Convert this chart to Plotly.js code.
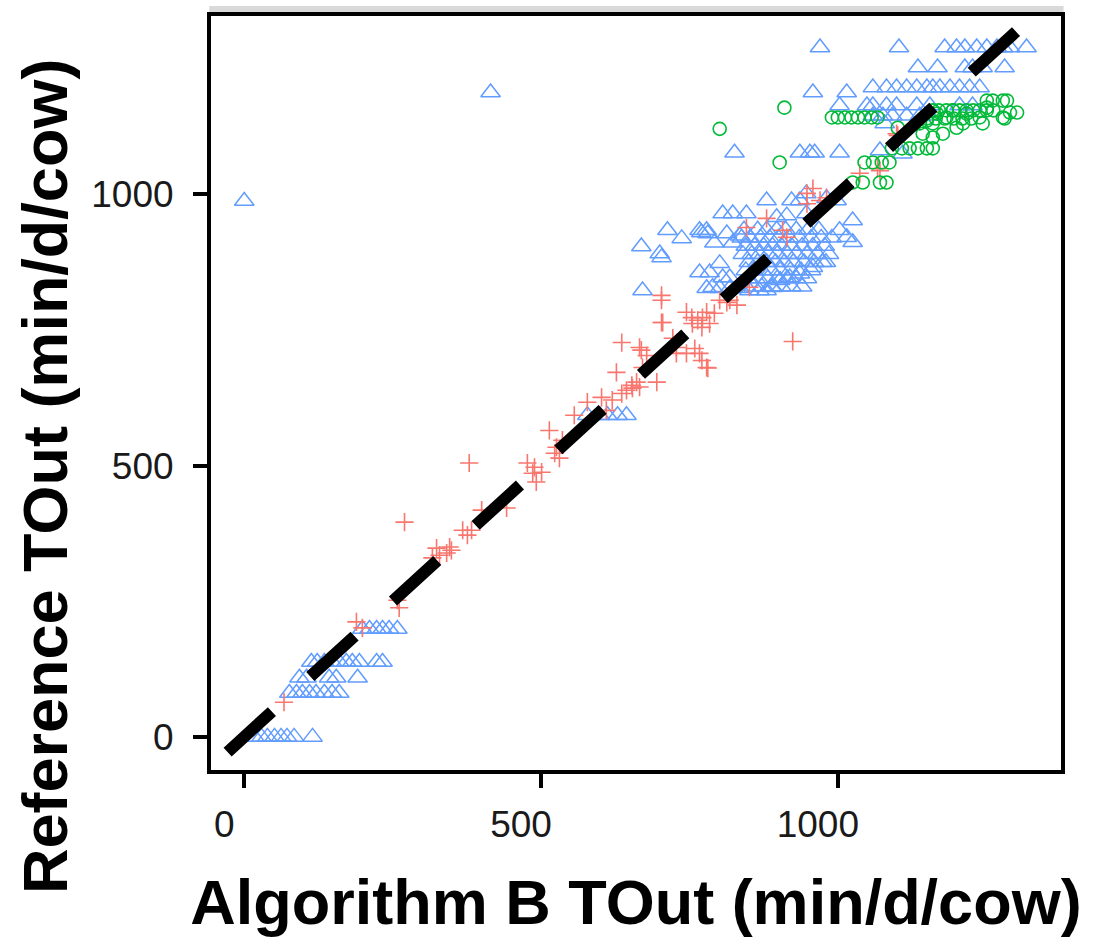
<!DOCTYPE html>
<html>
<head>
<meta charset="utf-8">
<script src="https://cdn.plot.ly/plotly-3.0.1.min.js"></script>
<style>html,body{margin:0;padding:0;background:#fff;}#chart{width:1096px;height:940px;}</style>
</head>
<body>
<div id="chart"></div>
<script>
// Blue triangles
const triX = [
  0, 415, 669,
  970, 1103, 1180, 1200, 1214, 1234, 1251, 1268, 1278, 1290, 1318,
  1135, 1168, 1214, 1227, 1244, 1281,
  1059, 1082, 1099, 1116, 1133, 1150, 1160, 1172, 1189, 1205, 1222, 1239,
  958, 1015,
  1003, 1049, 1059, 1082, 1099, 1133, 1155, 1205, 1227,
  1059, 1076, 1092, 1116, 1138, 1155,
  1079, 826, 936, 953, 961, 1003, 1071, 1109,
  880, 922, 936, 947, 981, 998,
  806, 823, 846, 897, 914, 947,
  713, 737, 770, 781, 792, 813, 823, 835, 767, 779,
  700, 1025, 1003, 1015, 1025, 703, 671,
  767, 784, 801, 806, 818,
  779, 789, 801, 818, 835, 851, 868, 880, 890, 903, 919, 936, 958, 974,
  842, 865, 880, 897, 912, 930, 950, 968,
  838, 852, 870, 885, 900, 918, 935, 955, 972, 990,
  845, 860, 875, 890, 905, 922, 940, 958, 978,
  840, 855, 868, 883, 898, 915, 930, 948, 965, 985,
  850, 865, 880, 895, 910, 925, 943, 960, 980,
  845, 858, 872, 888, 903, 920, 938, 955,
  850, 866, 882, 898, 915, 930, 948,
  858, 872, 888, 905, 922, 940,
  578, 599, 612, 629, 644,
  199, 211, 223, 233, 244, 258,
  113, 123, 135, 148, 160, 172, 182, 194, 223, 233,
  93, 105, 143, 155, 191,
  76, 88, 98, 110, 121, 135, 148, 160,
  17, 29, 39, 51, 62, 72, 84, 115
];
const triY = [
  988, 1188, 904,
  1271, 1271, 1271, 1271, 1271, 1271, 1271, 1271, 1271, 1271, 1271,
  1234, 1234, 1234, 1234, 1234, 1234,
  1197, 1197, 1197, 1197, 1197, 1197, 1197, 1197, 1197, 1197, 1197, 1197,
  1188, 1188,
  1164, 1164, 1164, 1164, 1164, 1164, 1164, 1164, 1164,
  1145, 1145, 1145, 1145, 1145, 1145,
  1131, 1077, 1077, 1077, 1077, 1077, 1081, 1075,
  989, 989, 989, 1002, 993, 989,
  965, 965, 965, 958, 961, 965,
  934, 919, 930, 928, 911, 928, 911, 924, 934, 934,
  891, 952, 934, 921, 912, 884, 823,
  856, 856, 873, 847, 847,
  827, 829, 827, 827, 827, 823, 823, 823, 829, 842, 847, 854, 866, 875,
  935, 935, 935, 935, 935, 935, 935, 935,
  920, 920, 920, 920, 920, 920, 920, 920, 920, 920,
  905, 905, 905, 905, 905, 905, 905, 905, 905,
  890, 890, 890, 890, 890, 890, 890, 890, 890, 890,
  875, 875, 875, 875, 875, 875, 875, 875, 875,
  860, 860, 860, 860, 860, 860, 860, 860,
  845, 845, 845, 845, 845, 845, 845,
  830, 830, 830, 830, 830, 830,
  593, 593, 593, 593, 593,
  199, 199, 199, 199, 199, 199,
  138, 138, 138, 138, 138, 138, 138, 138, 138, 138,
  109, 109, 109, 109, 109,
  81, 81, 81, 81, 81, 81, 81, 81,
  0, 0, 0, 0, 0, 0, 0, 0
];

// Green circles
const cirX = [
  910, 801, 902,
  990, 1000, 1012, 1023, 1034, 1045, 1057, 1067,
  1091, 1108, 1121, 1135, 1150, 1160,
  1045, 1059, 1074, 1087,
  1025, 1042, 1071, 1082,
  1261, 1278, 1290, 1281, 1251, 1239, 1211, 1200, 1244, 1217, 1194, 1183, 1167, 1160, 1150, 1138, 1177, 1160, 1143,
  1302, 1285, 1251, 1278,
  1160, 1170, 1183, 1194, 1205, 1217, 1228, 1239, 1251, 1262,
  1150, 1165, 1180, 1195, 1210, 1225,
  1101
];
const cirY = [
  1160, 1121, 1059,
  1142, 1142, 1142, 1142, 1142, 1142, 1142, 1142,
  1085, 1085, 1085, 1085, 1085, 1085,
  1059, 1059, 1059, 1059,
  1022, 1022, 1022, 1022,
  1173, 1173, 1151, 1140, 1160, 1142, 1131, 1123, 1131, 1149, 1155, 1142, 1149, 1131, 1136, 1131, 1112, 1105, 1112,
  1151, 1173, 1173, 1142,
  1155, 1155, 1155, 1155, 1155, 1155, 1155, 1155, 1155, 1155,
  1140, 1140, 1140, 1140, 1140, 1140,
  1123
];

// Red crosses
const crsX = [
  1101, 1071, 1037, 1067, 1099,
  958, 880, 703, 703, 745, 754, 764, 772, 779, 784, 771, 792, 755, 813, 830, 924, 722, 728, 666, 678, 767, 779, 851, 846, 914, 948, 981,
  907, 948, 970,
  270, 379, 368, 376, 383, 324, 346, 400, 442, 477, 489, 492, 501, 486,
  514, 526, 523, 536, 531, 556, 578, 602, 610, 620, 627, 636, 644, 653, 661, 666, 654,
  669, 671, 695, 636, 705, 728, 745, 759, 771, 781, 801, 818, 703,
  67, 189, 199, 258, 261, 317, 329, 341, 349
];
const crsY = [
  1109, 1044, 1039, 1048, 1112,
  1011, 956, 814, 764, 783, 773, 768, 773, 783, 762, 755, 781, 762, 801, 796, 729, 735, 718, 718, 703, 707, 681, 829, 939, 921, 1002, 994,
  934, 983, 989,
  396, 505, 381, 372, 381, 348, 350, 418, 422, 505, 497, 470, 488, 486,
  565, 534, 523, 547, 514, 593, 617, 626, 602, 621, 672, 633, 639, 648, 654, 645, 643,
  713, 681, 654, 727, 764, 707, 707, 716, 694, 680, 805, 805, 805,
  64, 212, 201, 252, 238, 330, 335, 339, 344
];

// Identity (1:1) reference line
const lineX = [-28, 1312];
const lineY = [-28, 1312];

const tickVals = [0, 500, 1000];
const tickText = ['0', '500', '1000'];

const xTitle = 'Algorithm B TOut (min/d/cow)';
const yTitle = 'Reference TOut (min/d/cow)';

const FONT = 'Liberation Sans, Arial, Helvetica, sans-serif';

const traces = [
  {
    type: 'scatter', mode: 'markers', x: triX, y: triY, name: 'triangles',
    marker: {symbol: 'triangle-up-open', size: 17, color: '#619CFF', line: {width: 1.5, color: '#619CFF'}}
  },
  {
    type: 'scatter', mode: 'markers', x: crsX, y: crsY, name: 'crosses',
    marker: {symbol: 'cross-thin-open', size: 13, color: '#F8766D', line: {width: 1.6, color: '#F8766D'}}
  },
  {
    type: 'scatter', mode: 'markers', x: cirX, y: cirY, name: 'circles',
    marker: {symbol: 'circle-open', size: 13, color: '#00BA38', line: {width: 1.6, color: '#00BA38'}}
  },
  {
    type: 'scatter', mode: 'lines', x: lineX, y: lineY, name: '1:1',
    line: {color: '#000000', width: 12, dash: '60px,52px'}
  }
];

const layout = {
  width: 1096, height: 940,
  margin: {l: 211, r: 35, t: 16, b: 170, pad: 0},
  paper_bgcolor: '#ffffff', plot_bgcolor: '#ffffff',
  showlegend: false,
  font: {family: FONT, color: '#000'},
  xaxis: {
    range: [-56, 1376], tickvals: tickVals, ticktext: tickText,
    showgrid: false, zeroline: false,
    showline: true, linecolor: '#000', linewidth: 4, mirror: true,
    ticks: 'outside', ticklen: 14, tickwidth: 4, tickcolor: '#000',
    tickfont: {family: FONT, size: 37, color: '#1a1a1a'},
    ticklabelstandoff: 5, ticklabelshift: -20,
    title: {text: xTitle, font: {family: FONT, size: 63, weight: 'bold', color: '#000'}, standoff: 36}
  },
  yaxis: {
    range: [-61, 1329], tickvals: tickVals, ticktext: tickText,
    showgrid: false, zeroline: false,
    showline: true, linecolor: '#000', linewidth: 4, mirror: true,
    ticks: 'outside', ticklen: 14, tickwidth: 4, tickcolor: '#000',
    tickfont: {family: FONT, size: 37, color: '#1a1a1a'},
    ticklabelstandoff: 12
  },
  annotations: [
    {text: yTitle, textangle: -90, showarrow: false,
     xref: 'paper', yref: 'paper', x: -0.196, y: 0.389, xanchor: 'center', yanchor: 'middle',
     font: {family: FONT, size: 63, weight: 'bold', color: '#000'}}
  ],
  shapes: [
    {type: 'rect', xref: 'paper', yref: 'paper', x0: -0.002, x1: 1.003, y0: 1.003, y1: 1.0133,
     fillcolor: '#d9d9d9', line: {width: 0}, layer: 'below'}
  ]
};

Plotly.newPlot('chart', traces, layout, {displayModeBar: false, staticPlot: true});
</script>
</body>
</html>
